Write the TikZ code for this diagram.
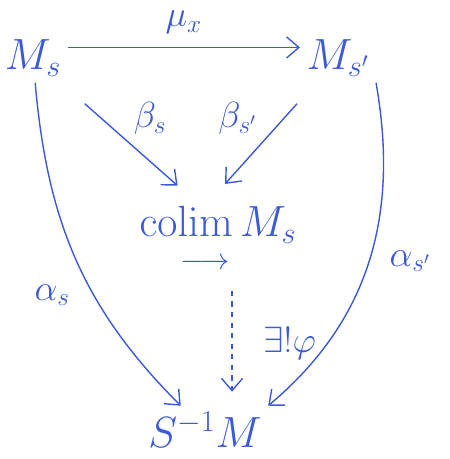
\documentclass[tikz,border=0pt]{standalone}
\usepackage{amsmath}
\usepackage{amssymb}
\usepackage{xcolor}
\usepackage{tikz}
\usetikzlibrary{positioning, arrows.meta}
\definecolor{ink}{RGB}{60,90,215}

\begin{document}
\begin{tikzpicture}[x=0.02cm,y=-0.02cm,->,>={Straight Barb[length=7pt,width=12pt]},thick,color=ink,
    every node/.style={font=\fontsize{26}{30}\selectfont},
    lbl/.style={font=\fontsize{20}{24}\selectfont}]
    \useasboundingbox (0,0) rectangle (449,459);

    \node (Ms) at (33,58) {$M_s$};
    \node (Msp) at (338,58) {$M_{s'}$};
    \node (colim) at (218,240) {$\mathrm{co}\underset{\raisebox{-3pt}{$\scriptstyle\longrightarrow$}}{\mathrm{lim}}\,M_s$};
    \node (SM) at (205,430) {$S^{-1}M$};

    \draw ([yshift=6pt]Ms.east) -- node[lbl,above=4pt] {$\mu_x$} ([yshift=6pt]Msp.west);
    \draw[shorten <=18pt,shorten >=12pt] (Ms) -- node[lbl,above right] {$\beta_s$} ([xshift=-14pt]colim.north);
    \draw[shorten <=16pt,shorten >=12pt] (Msp) -- node[lbl,above left] {$\beta_{s'}$} ([xshift=-4pt]colim.north);
    \draw (Ms) to[out=-85,in=135] node[lbl,pos=0.62,left=10pt] {$\alpha_s$} (SM);
    \draw (Msp.south east) to[out=-80,in=40] node[lbl,pos=0.5,right=8pt] {$\alpha_{s'}$} (SM.north east);
    \draw[dashed,shorten <=6pt,shorten >=8pt] ([xshift=8pt]colim.south) -- node[lbl,right=14pt] {$\exists!\varphi$} ([xshift=8pt]colim.south |- SM.north);
\end{tikzpicture}
\end{document}
